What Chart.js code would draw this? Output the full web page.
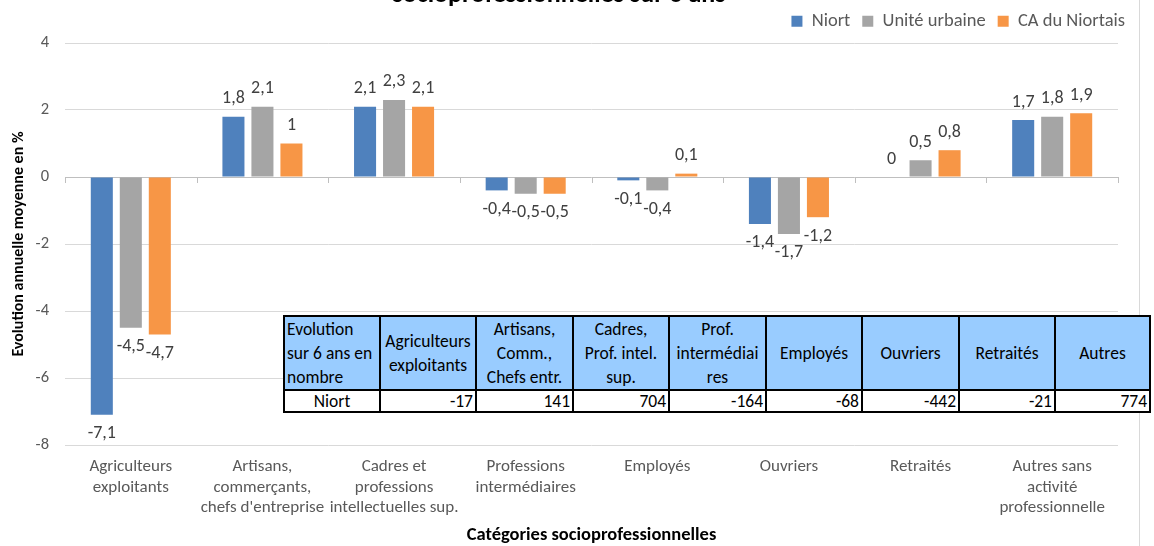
<!DOCTYPE html>
<html>
<head>
<meta charset="utf-8">
<script src="https://cdn.jsdelivr.net/npm/chart.js@4"></script>
<style>
  html, body { margin: 0; padding: 0; background: #fff; }
  #wrap { position: relative; width: 1154px; height: 546px; overflow: hidden; }
  #frame { position: absolute; left: 1139px; top: 0; width: 1px; height: 546px; background: #d9d9d9; }
  #tbl {
    position: absolute; left: 283px; top: 315px; width: 866px;
    border-collapse: collapse; table-layout: fixed; background: #fff;
    font-family: Carlito, Lato, "Open Sans", sans-serif; font-size: 17.5px; color: #000;
  }
  #tbl td { border: 2px solid #000; padding: 0 2px; white-space: nowrap; line-height: 24px; overflow: hidden; }
  #tbl tr.head td { background: #99ccff; text-align: center; height: 71px; }
  #tbl tr.head td:first-child { text-align: left; }
  #tbl tr.vals td { text-align: right; height: 20px; line-height: 20px; }
  #tbl tr.vals td:first-child { text-align: center; }
</style>
</head>
<body>
<div id="wrap">
  <canvas id="plot" width="1154" height="546"></canvas>
  <div id="frame"></div>
  <table id="tbl"></table>
</div>
<script>
const categories = [
  ["Agriculteurs", "exploitants"],
  ["Artisans,", "commerçants,", "chefs d'entreprise"],
  ["Cadres et", "professions", "intellectuelles sup."],
  ["Professions", "intermédiaires"],
  ["Employés"],
  ["Ouvriers"],
  ["Retraités"],
  ["Autres sans", "activité", "professionnelle"],
];
const niort = [-7.1, 1.8, 2.1, -0.4, -0.1, -1.4, 0, 1.7];
const uniteUrbaine = [-4.5, 2.1, 2.3, -0.5, -0.4, -1.7, 0.5, 1.8];
const caNiortais = [-4.7, 1, 2.1, -0.5, 0.1, -1.2, 0.8, 1.9];

const titleLine = "socioprofessionnelles sur 6 ans";
const yTitle = "Evolution annuelle moyenne en %";
const xTitle = "Catégories socioprofessionnelles";

const tableHeaders = [
  ["Evolution", "sur 6 ans en", "nombre"],
  ["Agriculteurs", "exploitants"],
  ["Artisans,", "Comm.,", "Chefs entr."],
  ["Cadres,", "Prof. intel.", "sup."],
  ["Prof.", "intermédiai", "res"],
  ["Employés"],
  ["Ouvriers"],
  ["Retraités"],
  ["Autres"],
];
const tableRowLabel = "Niort";
const tableValues = [-17, 141, 704, -164, -68, -442, -21, 774];

// table overlay
const tbl = document.getElementById("tbl");
const colW = [96, 96, 97, 96, 97, 96, 97, 96, 95];
tbl.innerHTML =
  "<colgroup>" + colW.map((w) => '<col style="width:' + w + 'px">').join("") + "</colgroup>" +
  '<tr class="head">' + tableHeaders.map((h) => "<td>" + h.join("<br>") + "</td>").join("") + "</tr>" +
  '<tr class="vals"><td>' + tableRowLabel + "</td>" + tableValues.map((v) => "<td>" + v + "</td>").join("") + "</tr>";

const FONT = "Carlito, Lato, 'Open Sans', sans-serif";
const fmt = (v) => String(v).replace(".", ",");

const titlePlugin = {
  id: "cut_title",
  afterDraw: (chart) => {
    const ctx = chart.ctx;
    ctx.save();
    ctx.font = "bold 26px " + FONT;
    ctx.fillStyle = "#000";
    ctx.textAlign = "center";
    ctx.textBaseline = "alphabetic";
    ctx.fillText(titleLine, 559, 2);
    ctx.restore();
  },
};

const valueLabels = {
  id: "value_labels",
  afterDatasetsDraw: (chart) => {
    const ctx = chart.ctx;
    ctx.save();
    ctx.font = "18px " + FONT;
    ctx.fillStyle = "#404040";
    ctx.textAlign = "center";
    ctx.textBaseline = "middle";
    chart.data.datasets.forEach((ds, i) => {
      chart.getDatasetMeta(i).data.forEach((bar, j) => {
        const v = ds.data[j];
        const y = v >= 0 ? bar.y - 18 : bar.y + 19;
        ctx.fillText(fmt(v), bar.x, y);
      });
    });
    ctx.restore();
  },
};

const zeroTicks = {
  id: "zero_ticks",
  beforeDatasetsDraw: (chart) => {
    const ctx = chart.ctx;
    const xs = chart.scales.x;
    const y0 = chart.scales.y.getPixelForValue(0);
    ctx.save();
    ctx.strokeStyle = "#bfbfbf";
    ctx.lineWidth = 1;
    ctx.beginPath();
    for (let i = 0; i <= categories.length; i++) {
      const x = Math.round(xs.getPixelForValue(i - 0.5)) + 0.5;
      ctx.moveTo(x, y0);
      ctx.lineTo(x, y0 + 6);
    }
    ctx.stroke();
    ctx.restore();
  },
};

const legendHeight = {
  id: "legend_height",
  beforeInit: (chart) => {
    const origFit = chart.legend.fit;
    chart.legend.fit = function () {
      origFit.bind(chart.legend)();
      this.height = 43;
    };
  },
};

const barChart = {
  type: "bar",
  plugins: [legendHeight, valueLabels, zeroTicks, titlePlugin],
  data: {
    labels: categories,
    datasets: [
      { label: "Niort", data: niort, backgroundColor: "#4f81bd" },
      { label: "Unité urbaine", data: uniteUrbaine, backgroundColor: "#a5a5a5" },
      { label: "CA du Niortais", data: caNiortais, backgroundColor: "#f79646" },
    ],
  },
  options: {
    responsive: false,
    animation: false,
    devicePixelRatio: 1,
    layout: { padding: { left: 0, right: 17, top: 0, bottom: 0 } },
    datasets: {
      bar: { categoryPercentage: 0.661, barPercentage: 0.76 },
    },
    plugins: {
      tooltip: { enabled: false },
      legend: {
        position: "top",
        align: "end",
        labels: {
          boxWidth: 11,
          boxHeight: 11,
          padding: 12,
          color: "#595959",
          font: { family: FONT, size: 18.5 },
        },
      },
    },
    scales: {
      x: {
        grid: { display: false, drawTicks: false },
        border: { display: false },
        ticks: {
          color: "#595959",
          padding: 12,
          maxRotation: 0,
          autoSkip: false,
          font: { family: FONT, size: 17, lineHeight: 1.2 },
        },
        title: {
          display: true,
          text: xTitle,
          color: "#000",
          padding: { top: 0, bottom: 0 },
          font: { family: FONT, size: 18.5, weight: "bold" },
        },
        afterFit: (scale) => {
          scale.height = 101;
        },
      },
      y: {
        min: -8,
        max: 4,
        border: { display: false },
        grid: {
          drawTicks: false,
          color: (c) => (c.tick && c.tick.value === 0 ? "#bfbfbf" : "#d9d9d9"),
        },
        ticks: {
          stepSize: 2,
          padding: 16,
          color: "#595959",
          font: { family: FONT, size: 16.5 },
        },
        title: {
          display: true,
          text: yTitle,
          color: "#000",
          padding: { top: 9, bottom: 0 },
          font: { family: FONT, size: 16, weight: "bold" },
        },
        afterFit: (scale) => {
          scale.width = 65;
        },
      },
      // empty spacer on the right so the legend can sit past the plot edge
      spacer: {
        type: "linear",
        position: "right",
        display: true,
        grid: { display: false, drawTicks: false },
        border: { display: false },
        ticks: { display: false },
        afterFit: (scale) => {
          scale.width = 19;
        },
      },
    },
  },
};

const canvas = document.getElementById("plot");
const chart = new Chart(canvas.getContext("2d"), barChart);
</script>
</body>
</html>
